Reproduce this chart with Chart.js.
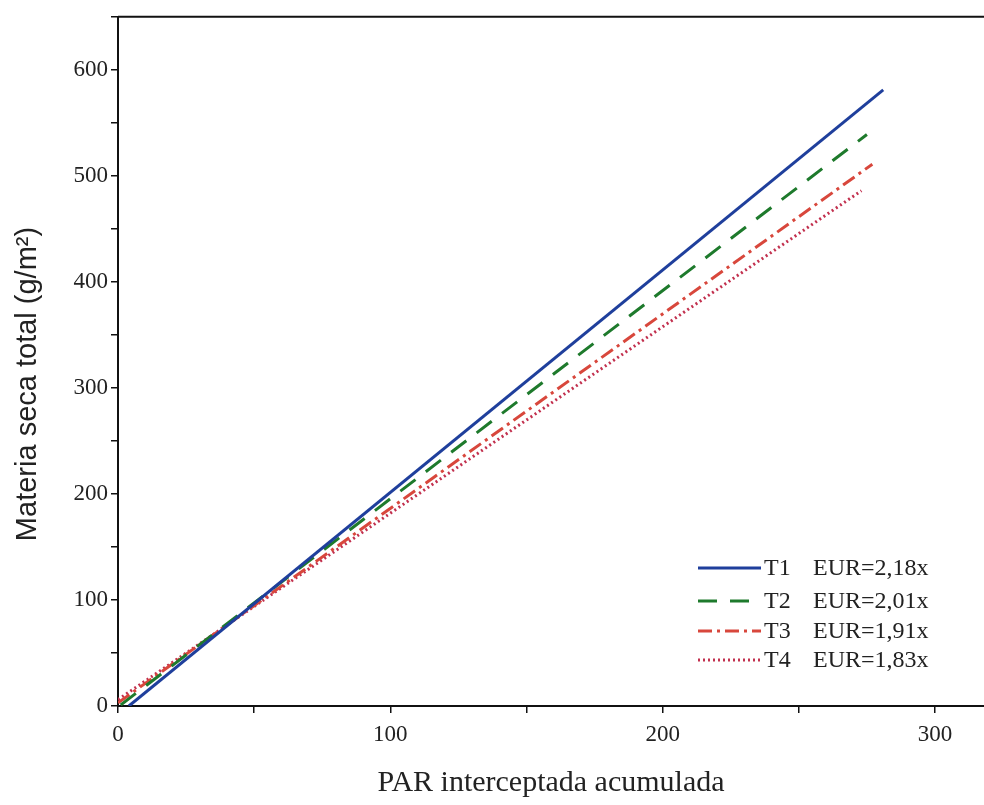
<!DOCTYPE html>
<html>
<head>
<meta charset="utf-8">
<script src="https://cdn.jsdelivr.net/npm/chart.js@4"></script>
<style>
  html, body { margin: 0; padding: 0; background: #fff; }
  canvas { display: block; }
</style>
</head>
<body>
<canvas id="chart" width="984" height="805"></canvas>
<script>
// regression lines: start and end points (x = PAR, y = g/m2)
const seriesNames = ["T1", "T2", "T3", "T4"]
const legendText = ["EUR=2,18x", "EUR=2,01x", "EUR=1,91x", "EUR=1,83x"]
const t1Points = [{ x: 4, y: 0 }, { x: 281, y: 581 }]
const t2Points = [{ x: 1, y: 1 }, { x: 275, y: 539 }]
const t3Points = [{ x: 0, y: 3 }, { x: 277, y: 511 }]
const t4Points = [{ x: 0, y: 6 }, { x: 273, y: 486 }]
const xTickLabels = [0, 100, 200, 300]
const yTickLabels = [0, 100, 200, 300, 400, 500, 600]
const yTitle = "Materia seca total (g/m²)"

const serif = "'Liberation Serif', 'DejaVu Serif', serif"
const sans = "'Liberation Sans', Arial, sans-serif"

const styles = [
    { color: "#1f3f9c", dash: [] },
    { color: "#1e7a2c", dash: [19, 13] },
    { color: "#d8473c", dash: [14, 5, 3, 5] },
    { color: "#c2304e", dash: [2, 3] },
]

const allPoints = [t1Points, t2Points, t3Points, t4Points]

const frameAndLegend = {
    id: "frameAndLegend",
    afterDraw(chart) {
        const ctx = chart.ctx
        const area = chart.chartArea
        ctx.save()
        // top frame line
        ctx.strokeStyle = "#111"
        ctx.lineWidth = 2
        ctx.beginPath()
        ctx.moveTo(area.left, area.top)
        ctx.lineTo(area.right, area.top)
        ctx.stroke()

        // y axis title, sans-serif and sitting a bit below the axis middle like the original
        ctx.save()
        ctx.translate(28, 384)
        ctx.rotate(-Math.PI / 2)
        ctx.font = `29px ${sans}`
        ctx.fillStyle = "#222"
        ctx.textAlign = "center"
        ctx.textBaseline = "middle"
        ctx.fillText(yTitle, 0, 0)
        ctx.restore()

        // legend in the lower right corner
        const rowY = [568, 601, 631, 660]
        ctx.font = `24px ${serif}`
        ctx.fillStyle = "#222"
        ctx.textBaseline = "middle"
        seriesNames.forEach((name, i) => {
            const y = rowY[i]
            ctx.strokeStyle = styles[i].color
            ctx.lineWidth = 3
            ctx.setLineDash(styles[i].dash)
            ctx.beginPath()
            ctx.moveTo(698, y)
            ctx.lineTo(761, y)
            ctx.stroke()
            ctx.setLineDash([])
            ctx.fillText(name, 764, y + 1)
            ctx.fillText(legendText[i], 813, y + 1)
        })
        ctx.restore()
    },
}

function keepFifties(scale) {
    scale.ticks = scale.ticks.filter((t) => t.value % 50 === 0)
}

new Chart(document.getElementById("chart"), {
    type: "line",
    data: {
        datasets: allPoints.map((points, i) => ({
            label: seriesNames[i],
            data: points,
            borderColor: styles[i].color,
            borderDash: styles[i].dash,
            borderWidth: 3,
            pointRadius: 0,
            tension: 0,
        })),
    },
    options: {
        responsive: false,
        animation: false,
        layout: { padding: { top: 16, left: 6, right: 0, bottom: 0 } },
        plugins: {
            legend: { display: false },
            tooltip: { enabled: false },
        },
        scales: {
            x: {
                type: "linear",
                min: 0,
                max: 318,
                afterBuildTicks: keepFifties,
                afterFit(scale) { scale.height = 99 },
                border: { display: true, color: "#111", width: 2 },
                grid: { drawOnChartArea: false, drawTicks: true, tickLength: 7, color: "#111", lineWidth: 1.5 },
                ticks: {
                    stepSize: 50,
                    includeBounds: false,
                    autoSkip: false,
                    maxRotation: 0,
                    padding: 8,
                    color: "#222",
                    font: { family: serif, size: 23 },
                    callback(value) {
                        return xTickLabels.includes(value) ? String(value) : ""
                    },
                },
                title: {
                    display: true,
                    text: "PAR interceptada acumulada",
                    color: "#222",
                    font: { family: serif, size: 30 },
                    padding: { top: 16 },
                },
            },
            y: {
                type: "linear",
                min: 0,
                max: 650,
                afterBuildTicks: keepFifties,
                afterFit(scale) { scale.width = 112 },
                border: { display: true, color: "#111", width: 2 },
                grid: { drawOnChartArea: false, drawTicks: true, tickLength: 7, color: "#111", lineWidth: 1.5 },
                ticks: {
                    stepSize: 50,
                    includeBounds: false,
                    autoSkip: false,
                    padding: 3,
                    color: "#222",
                    font: { family: serif, size: 23 },
                    callback(value) {
                        return yTickLabels.includes(value) ? String(value) : ""
                    },
                },
                title: { display: false },
            },
        },
    },
    plugins: [frameAndLegend],
})
</script>
</body>
</html>
